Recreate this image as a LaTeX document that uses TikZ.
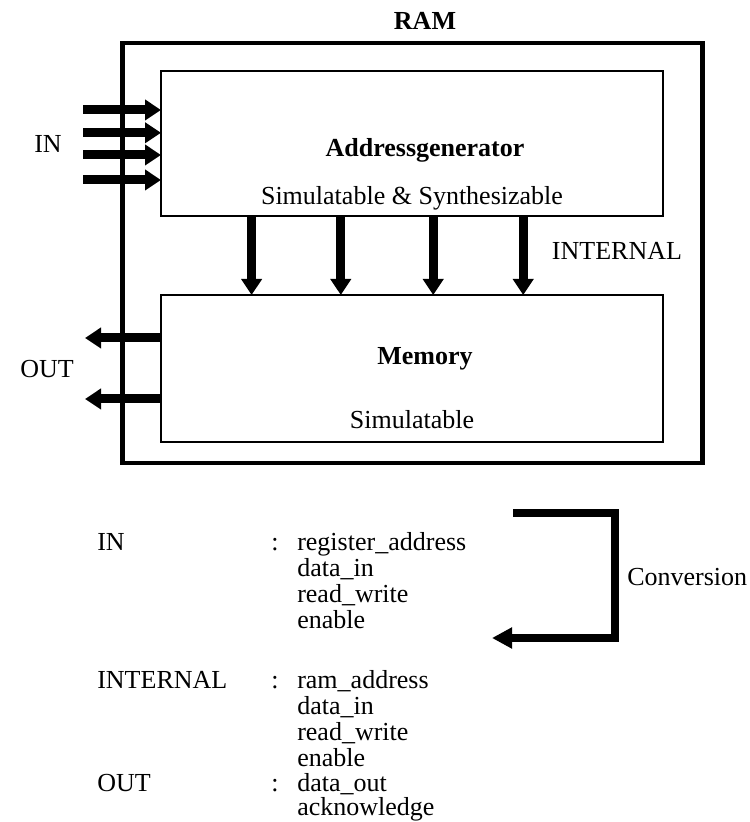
\documentclass[tikz,border=0pt]{standalone}
\usepackage{fontspec}
\setmainfont{Liberation Serif}
\usepackage{tikz}
\usetikzlibrary{arrows.meta,positioning,calc}

\begin{document}
\begin{tikzpicture}[
  txt/.style={font=\fontsize{18.5}{18.5}\selectfont, inner sep=0pt, anchor=base},
  lbl/.style={txt, font=\fontsize{18.5}{18.5}\selectfont\bfseries},
  sig/.style={txt, anchor=base west},
  block/.style={draw, rectangle, line width=2pt, inner sep=0pt, outer sep=0pt},
  frame/.style={draw, rectangle, line width=3.5pt, inner sep=0pt, outer sep=0pt},
  bus/.style={line width=6.4pt, -{Triangle[length=4mm,width=5mm]}},
  conv/.style={line width=5.7pt, -{Triangle[length=5mm,width=5mm]}}
]
\useasboundingbox (0,0) rectangle (18.725,20.55);

% RAM with its two parts
\node[frame, minimum width=14.5cm, minimum height=10.5cm] (ram) at (10.3225,14.225) {};
\node[block, minimum width=12.55cm, minimum height=3.625cm] (addr) at (10.3,16.9625) {};
\node[block, minimum width=12.55cm, minimum height=3.675cm] (mem) at (10.3,11.3375) {};

\node[lbl] (ramtitle) at (10.625,19.8) {RAM};
\node[lbl] (addrname) at (10.625,16.625) {Addressgenerator};
\node[txt] (addrkind) at (10.3,15.425) {Simulatable \& Synthesizable};
\node[lbl] (memname) at (10.625,11.425) {Memory};
\node[txt] (memkind) at (10.3,9.825) {Simulatable};
\node[txt] (internal) at (15.425,14.05) {INTERNAL};
\node[txt] (inlabel) at (1.2,16.725) {IN};
\node[txt] (outlabel) at (1.175,11.1) {OUT};

% inputs, internal signals, outputs
\foreach \y [count=\i] in {17.8,17.23,16.675,16.05} {
  \coordinate (in\i) at (2.075,\y);
  \draw[bus] (in\i) -- (in\i -| addr.west);
}
\foreach \x [count=\i] in {6.29,8.52,10.83,13.08} {
  \coordinate (int\i) at (\x,15.15);
  \draw[bus] (int\i) -- (int\i |- mem.north);
}
\foreach \y [count=\i] in {12.1,10.575} {
  \coordinate (out\i) at (2.125,\y);
  \draw[bus] (out\i -| mem.west) -- (out\i);
}

% signal list
\node[sig] (inname) at (2.425,6.775) {IN};
\node[txt] (incolon) at (6.875,6.775) {:};
\foreach \s [count=\i] in {register\_address,data\_in,read\_write,enable}
  \node[sig] (insig\i) at (7.425,6.775-0.65*\i+0.65) {\s};

\node[sig] (intname) at (2.425,3.325) {INTERNAL};
\node[txt] (intcolon) at (6.875,3.325) {:};
\foreach \s [count=\i] in {ram\_address,data\_in,read\_write,enable}
  \node[sig] (intsig\i) at (7.425,3.325-0.65*\i+0.65) {\s};

\node[sig] (outname) at (2.425,0.75) {OUT};
\node[txt] (outcolon) at (6.875,0.75) {:};
\node[sig] (outsig1) at (7.425,0.75) {data\_out};
\node[sig] (outsig2) at (7.425,0.16) {acknowledge};

% conversion
\coordinate (convfrom) at (12.825,7.725);
\coordinate (convto) at (12.3,4.6);
\draw[conv] (convfrom) -- (15.375,7.725) -- (15.375,4.6) -- (convto);
\node[sig] (convlabel) at (15.675,5.9) {Conversion};

\end{tikzpicture}
\end{document}
